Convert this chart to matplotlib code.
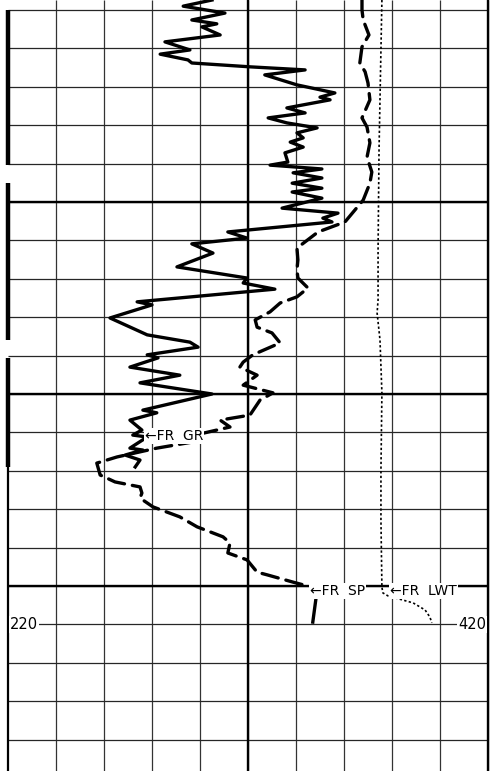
import matplotlib
matplotlib.use("Agg")
import matplotlib.pyplot as plt
import numpy as np

# track scale 0-100 across, depth in ft (10 ft per grid line)
gr_depth = [-2.6, -1.0, 0.8, 2.6, 3.6, 4.4, 6.5, 8.3, 10.4, 11.5, 13.0, 13.8, 14.8, 15.6,
            16.9, 19.5, 21.6, 22.7, 23.4, 25.5, 26.8, 28.1, 29.4, 30.7, 32.0, 33.3, 34.4,
            35.7, 37.2, 39.6, 40.4, 41.4, 42.4, 43.75, 45.1, 46.4, 47.4, 49.0, 51.6, 52.9,
            54.2, 55.2, 57.8, 59.4, 60.9, 63.3, 66.9, 69.8, 71.1, 72.7, 76.0, 76.8, 80.2,
            84.6, 86.5, 87.8, 89.8, 90.6, 93.0, 95.1, 97.1, 100.0, 104.2, 104.9, 106.8,
            109.4, 110.7, 111.2, 114.1, 114.6, 115.9, 117.2, 119.0]
gr_value = [42.5, 36.5, 45.2, 38.3, 43.5, 40.4, 44.2, 32.7, 37.9, 31.7, 37.5, 38.3, 50.4, 61.9,
            53.5, 60.2, 68.1, 65.0, 67.1, 58.1, 61.9, 54.2, 58.1, 64.4, 60.2, 61.5, 58.8,
            61.5, 57.7, 58.3, 54.6, 65.4, 59.4, 65.4, 59.2, 65.4, 59.2, 65.4, 57.1, 68.75,
            65.6, 67.5, 45.8, 49.8, 38.3, 42.7, 35.2, 49.8, 49.0, 55.6, 26.9, 30.0, 21.25,
            29.0, 37.9, 39.6, 29.0, 31.25, 25.4, 35.8, 27.5, 42.5, 28.1, 31.0, 25.4,
            27.9, 26.0, 29.0, 25.4, 28.1, 24.4, 27.5, 26.5]

sp_depth = [-2.6, 0.0, 2.6, 6.5, 9.6, 13.8, 16.1, 19.0, 23.4, 28.1, 30.5, 34.6, 38.3, 42.2,
            45.1, 49.5, 55.2, 57.8, 62.0, 65.1, 67.7, 69.8, 72.4, 74.7, 76.3, 78.6, 80.7,
            82.6, 84.1, 86.7, 89.8, 91.7, 93.0, 95.1, 97.7, 99.7, 101.6, 105.5, 106.8,
            108.6, 110.4, 112.5, 114.1, 116.4, 118.0, 121.1, 122.9, 124.2, 125.8, 127.1,
            129.4, 132.0, 134.6, 137.2, 138.8, 141.4, 143.2, 146.4, 147.1, 149.0, 149.7, 151.0]
sp_value = [73.75, 73.75, 74.0, 75.2, 73.75, 73.3, 74.4, 75.0, 75.4, 73.75, 74.8, 75.4, 74.8, 75.8,
            75.4, 74.0, 70.2, 64.6, 60.2, 60.4, 60.2, 60.4, 62.5, 60.2, 56.7, 54.6, 51.5,
            51.9, 55.0, 56.7, 51.0, 49.0, 48.3, 51.9, 49.0, 55.2, 52.5, 50.4, 44.2,
            46.25, 40.0, 38.5, 31.0, 22.7, 18.5, 19.2, 22.3, 27.5, 27.9, 27.5,
            30.2, 35.8, 39.4, 44.8, 46.25, 45.8, 49.8, 51.9, 54.0, 59.4, 61.5, 62.3]

sp_tail_depth = [152.9, 159.4]
sp_tail_value = [64.2, 63.5]

lwt_depth = [-2.6, 10.4, 23.4, 36.5, 62.5, 75.5, 78.9, 85.9, 99.7, 119.8, 132.8, 150.3,
             151.8, 152.6, 154.4, 156.25, 158.1, 159.6]
lwt_value = [77.9, 77.7, 77.5, 77.3, 77.1, 77.1, 76.9, 77.5, 77.9, 77.7, 77.7, 77.9,
             78.1, 79.2, 84.4, 86.9, 87.9, 88.3]

grid_x = np.arange(0, 101, 10)
grid_depth = np.arange(0, 191, 10)
heavy_x = [50, 100]
heavy_depth = [50, 100, 150]
edge_bars = [(0, 40.4), (45.1, 85.9), (90.6, 119.0)]

fig = plt.figure(figsize=(4.9, 7.71), dpi=100)
ax = fig.add_axes([0, 0, 1, 1])
ax.set_xlim(-1.667, 100.42)
ax.set_ylim(198.18, -2.604)
ax.axis("off")

ax.vlines(grid_x[1:], -2.604, 198.18, color="0.2", lw=0.9, zorder=1)
ax.hlines(grid_depth, 0, 100, color="0.15", lw=0.9, zorder=1)
ax.vlines(heavy_x, -2.604, 198.18, color="black", lw=1.7, zorder=1)
ax.hlines(heavy_depth, 0, 100, color="black", lw=1.7, zorder=1)

# left edge: heavy segmented bar, then plain line
for top, bot in edge_bars:
    ax.plot([0, 0], [top, bot], color="black", lw=3.2, solid_capstyle="butt", zorder=2)
ax.plot([0, 0], [119.0, 198.18], color="black", lw=1.6, zorder=2)

ax.plot(gr_value, gr_depth, color="black", lw=2.4, solid_joinstyle="round", zorder=3)
ax.plot(sp_value, sp_depth, color="black", lw=2.4, dashes=(5, 2.4),
        dash_capstyle="round", dash_joinstyle="round", zorder=3)
ax.plot(sp_tail_value, sp_tail_depth, color="black", lw=2.4, zorder=3)
ax.plot(lwt_value, lwt_depth, color="black", lw=1.2, dashes=(1.4, 1.4), zorder=3)

box = dict(facecolor="white", edgecolor="none", pad=0.6)
ax.text(28.5, 110.9, "←FR  GR", fontsize=10, ha="left", va="center", bbox=box, zorder=4)
ax.text(62.9, 151.3, "←FR  SP", fontsize=10, ha="left", va="center", bbox=box, zorder=4)
ax.text(79.6, 151.3, "←FR  LWT", fontsize=10, ha="left", va="center", bbox=box, zorder=4)
ax.text(0.4, 160, "220", fontsize=10.5, ha="left", va="center", bbox=box, zorder=4)
ax.text(99.6, 160, "420", fontsize=10.5, ha="right", va="center", bbox=box, zorder=4)

fig.savefig("out.png", dpi=100)
